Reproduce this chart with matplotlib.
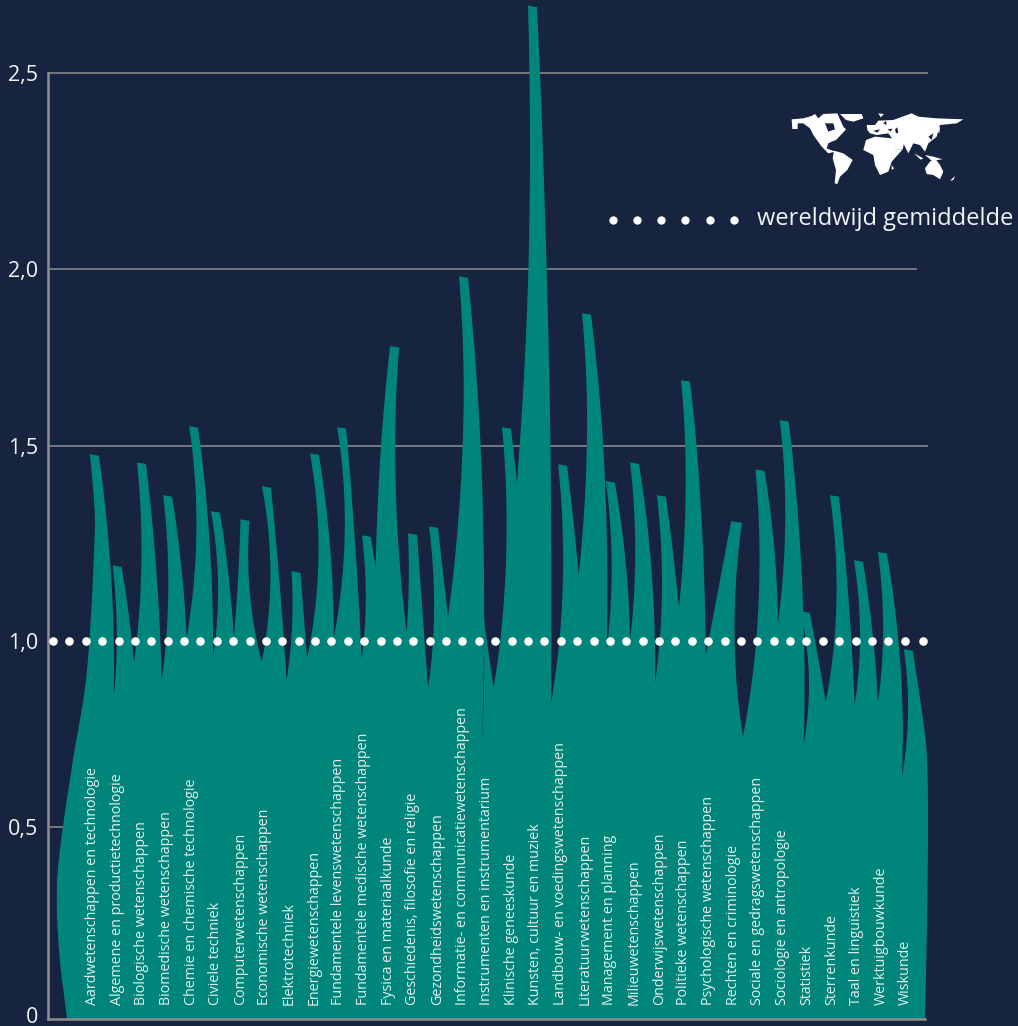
import numpy as np
import matplotlib
matplotlib.use("Agg")
import matplotlib.pyplot as plt
from matplotlib.patches import Polygon
from matplotlib.transforms import ScaledTranslation

categories = ["Aardwetenschappen en technologie","Algemene en productietechnologie","Biologische wetenschappen",
"Biomedische wetenschappen","Chemie en chemische technologie","Civiele techniek","Computerwetenschappen",
"Economische wetenschappen","Elektrotechniek","Energiewetenschappen","Fundamentele levenswetenschappen",
"Fundamentele medische wetenschappen","Fysica en materiaalkunde","Geschiedenis, filosofie en religie",
"Gezondheidswetenschappen","Informatie- en communicatiewetenschappen","Instrumenten en instrumentarium",
"Klinische geneeskunde","Kunsten, cultuur en muziek","Landbouw- en voedingswetenschappen","Literatuurwetenschappen",
"Management en planning","Milieuwetenschappen","Onderwijswetenschappen","Politieke wetenschappen",
"Psychologische wetenschappen","Rechten en criminologie","Sociale en gedragswetenschappen",
"Sociologie en antropologie","Statistiek","Sterrenkunde","Taal en linguïstiek","Werktuigbouwkunde","Wiskunde"]

tip_value = [1.477,1.192,1.456,1.372,1.554,1.331,1.310,1.395,1.177,1.479,1.551,1.269,1.780,1.274,1.292,1.977,1.051,
             1.551,2.670,1.451,1.873,1.408,1.456,1.372,1.684,1.305,1.438,1.571,1.074,1.372,1.205,1.226,0.976]
tip_pos = [0.18,1.10,2.09,3.15,4.20,5.09,6.29,7.16,8.36,9.11,10.21,11.22,12.36,13.09,13.94,15.16,15.99,
           16.90,17.96,19.18,20.15,21.12,22.10,23.19,24.17,26.24,27.19,28.17,29.03,30.21,31.19,32.16,33.21]
valley_value = [0.855,0.944,0.895,1.008,0.962,1.008,0.944,0.895,0.954,1.010,0.952,1.187,1.023,0.874,1.062,0.726,
                0.874,1.405,0.833,1.169,0.976,1.003,0.887,1.087,0.962,0.742,1.046,0.726,0.836,0.828,0.836,0.634]
valley_pos = [0.97,1.79,2.91,3.92,5.00,5.84,6.97,7.98,8.81,9.90,11.03,11.59,12.85,13.72,14.53,15.90,
              16.38,17.33,18.71,19.83,20.97,21.92,22.93,23.90,24.99,26.50,27.92,28.97,29.86,31.03,31.98,32.95]
outer_left_pos = [-0.933,-1.26,-1.34,-1.10,-0.69,-0.20,0.03,0.16,0.20,0.12]
outer_left_val = [0.0,0.18,0.349,0.5,0.68,0.876,1.054,1.226,1.31,1.395]
outer_right_pos = [33.81,33.97,34.01,33.97,33.89]
outer_right_val = [0.788,0.68,0.5,0.258,0.0]

# curvature of each blade edge, as a fraction of the blade height
bend_left = [0,.055,.06,.065,.083,.085,.015,.10,.055,.10,.09,.065,-.02,.03,.07,.054,.02,.065,.026,.07,.05,.065,.06,
             .065,.05,0,.07,.065,.10,.085,.08,.07,.08]
bend_right = [.04,.02,.025,.03,.035,.027,-.085,.01,0,.04,.01,0,-.05,0,0,.033,0,0,.014,.01,.035,.04,.045,.01,.025,
              -.075,.04,.037,.01,.02,.03,.055]
half_width = [0.183]*33
half_width[16] = 0.01
half_width[25] = 0.22

tick_values = [0,0.5,1.0,1.5,2.0,2.5]
tick_labels = ["0","0,5","1,0","1,5","2,0","2,5"]
grid_values = [0.5,1.5,2.0,2.5]
grid_ends = [34.03,34.03,33.58,34.03]
average = 1.0

BG, TEAL, GREY = "#172440", "#00857b", "#8f8f8f"
PXC = 24.64   # pixels per category
W, H = 1018, 1026
FONT = ["Open Sans", "DejaVu Sans"]

val_anchor = np.array([0,0.5,1.0,1.5,2.0,2.5,2.686])
px_anchor = np.array([0,192,378,573,750,946,1019.0])
fwd = lambda v: np.interp(v, val_anchor, px_anchor)
inv = lambda p: np.interp(p, px_anchor, val_anchor)

fig = plt.figure(figsize=(W/100, H/100), dpi=100, facecolor=BG)
ax = fig.add_axes([48/W, 7/H, 970/W, 1019/H], facecolor=BG)
ax.set_yscale("function", functions=(fwd, inv))
ax.set_xlim((48-90)/PXC, (1018-90)/PXC)
ax.set_ylim(0, 2.686)

def quad(p0, p2, bend):
    h = abs(p2[1]-p0[1])
    cx = (p0[0]+p2[0])/2 + bend*h*15.35
    cy = (p0[1]+p2[1])/2
    t = np.linspace(0, 1, 40)
    return ((1-t)**2*p0[0]+2*t*(1-t)*cx+t**2*p2[0], (1-t)**2*p0[1]+2*t*(1-t)*cy+t**2*p2[1])

def catmull(xs, ys):
    x = np.r_[2*xs[0]-xs[1], xs, 2*xs[-1]-xs[-2]]
    y = np.r_[2*ys[0]-ys[1], ys, 2*ys[-1]-ys[-2]]
    ox, oy = [], []
    for i in range(1, len(x)-2):
        t = np.linspace(0, 1, 16)[:, None]
        P = [np.array([x[i+k], y[i+k]]) for k in (-1,0,1,2)]
        c = 0.5*(2*P[1]+(P[2]-P[0])*t+(2*P[0]-5*P[1]+4*P[2]-P[3])*t**2+(3*P[1]-P[0]-3*P[2]+P[3])*t**3)
        ox += list(c[:,0]); oy += list(c[:,1])
    return np.array(ox), np.array(oy)

X, Y = [], []
lx = outer_left_pos + [tip_pos[0]-half_width[0]]
ly = outer_left_val + [tip_value[0]+.002]
a, b = catmull(np.array(lx), np.array(ly))
X += list(a); Y += list(b)
for i in range(33):
    tl = (tip_pos[i]-half_width[i], tip_value[i]+.002)
    tr = (tip_pos[i]+half_width[i], tip_value[i]-.002)
    if i > 0:
        v = (valley_pos[i-1], valley_value[i-1])
        a, b = quad(v, tl, bend_left[i]); X += list(a); Y += list(b)
    if i < 32:
        v = (valley_pos[i], valley_value[i])
        a, b = quad(tr, v, bend_right[i]); X += list(a); Y += list(b)
    else:
        a, b = catmull(np.array([tr[0]]+outer_right_pos), np.array([tr[1]]+outer_right_val))
        X += list(a); Y += list(b)
ax.fill(X, Y, color=TEAL, lw=0, zorder=2)

ax.hlines(grid_values, ax.get_xlim()[0], grid_ends, color=GREY, lw=1.1, zorder=1)
for s in ("top", "right"):
    ax.spines[s].set_visible(False)
for s in ("left", "bottom"):
    ax.spines[s].set_color(GREY); ax.spines[s].set_linewidth(1.8)
ax.spines["left"].set_bounds(0, 2.5)
ax.spines["bottom"].set_bounds(ax.get_xlim()[0], 33.88)
ax.set_xticks([])
ax.set_yticks(tick_values, tick_labels, color="#f2f4f4", fontsize=15.5, family=FONT)
ax.yaxis.set_minor_locator(matplotlib.ticker.NullLocator())
ax.tick_params(axis="y", length=0, pad=7)
zero = ax.get_yticklabels()[0]
zero.set_transform(zero.get_transform() + ScaledTranslation(0, 3/72, fig.dpi_scale_trans))

for i, c in enumerate(categories):
    ax.text(i+0.1, 0.036, c, rotation=90, ha="center", va="bottom", fontsize=10.3, color="#e3f1ef", family=FONT, zorder=3)

dot_x = np.r_[(53-90)/PXC + np.arange(53)*16.38/PXC, (923-90)/PXC]
ax.scatter(dot_x, np.full_like(dot_x, average), s=38, color="white", lw=0, zorder=5)

legend_px = [613,637,661,685,710,734]
fig.add_artist(plt.Line2D([p/W for p in legend_px], [1-220/H]*6, ls="none", marker="o", ms=6, mfc="white", mec="none",
                          transform=fig.transFigure))
fig.text(757/W, 1-219/H, "wereldwijd gemiddelde", color="#f2f4f4", fontsize=17, va="center", ha="left", family=FONT)

# world map icon (outline traced roughly, in its own small axes)
land = [
 [(95,88),(130,85),(155,78),(165,72),(175,85),(190,72),(232,70),(240,88),(250,110),(258,118),(250,127),(228,150),(215,155),(205,160),(200,175),(225,185),(205,190),(185,170),(160,135),(150,115),(130,100),(113,100),(113,117),(97,117)],
 [(240,72),(305,72),(310,85),(280,95),(258,90)],
 [(222,182),(250,190),(278,210),(262,240),(240,260),(232,282),(224,280),(228,240),(218,205)],
 [(318,150),(345,140),(395,145),(410,180),(428,178),(395,215),(385,245),(360,255),(345,225),(340,195),(310,180)],
 [(395,140),(432,160),(428,178),(410,180),(395,152)],
 [(320,105),(345,105),(355,92),(400,90),(455,70),(475,80),(530,85),(610,88),(590,100),(540,105),(530,140),(505,160),(495,185),(480,165),(460,160),(445,190),(430,160),(400,150),(385,130),(350,135),(330,130),(322,120)],
 [(495,235),(510,215),(525,205),(540,225),(550,245),(540,268),(520,255),(500,252)],
 [(395,225),(402,235),(395,240)],
 [(462,190),(490,205),(482,209)],
 [(495,195),(520,200),(548,208),(515,212)],
 [(570,272),(585,258),(580,270)],
 [(530,120),(540,110),(538,130)],
 [(355,70),(372,72),(362,82)],
]
water = [
 [(195,100),(220,100),(225,118),(205,125)],
 [(205,160),(225,155),(216,170)],
 [(340,122),(360,118),(352,128)],
 [(382,118),(398,116),(392,124)],
 [(405,118),(412,112),(415,128),(408,130)],
 [(370,100),(378,92),(380,105)],
 [(505,140),(520,130),(515,150)],
]
m = fig.add_axes([760/W, 1-240/H, 258/W, 150/H])
m.set_axis_off(); m.set_xlim(0, 774); m.set_ylim(450, 0)
for poly in land:
    m.add_patch(Polygon(poly, closed=True, fc="white", ec="none"))
for poly in water:
    m.add_patch(Polygon(poly, closed=True, fc=BG, ec="none"))

fig.savefig("out.png", dpi=100, facecolor=BG)
